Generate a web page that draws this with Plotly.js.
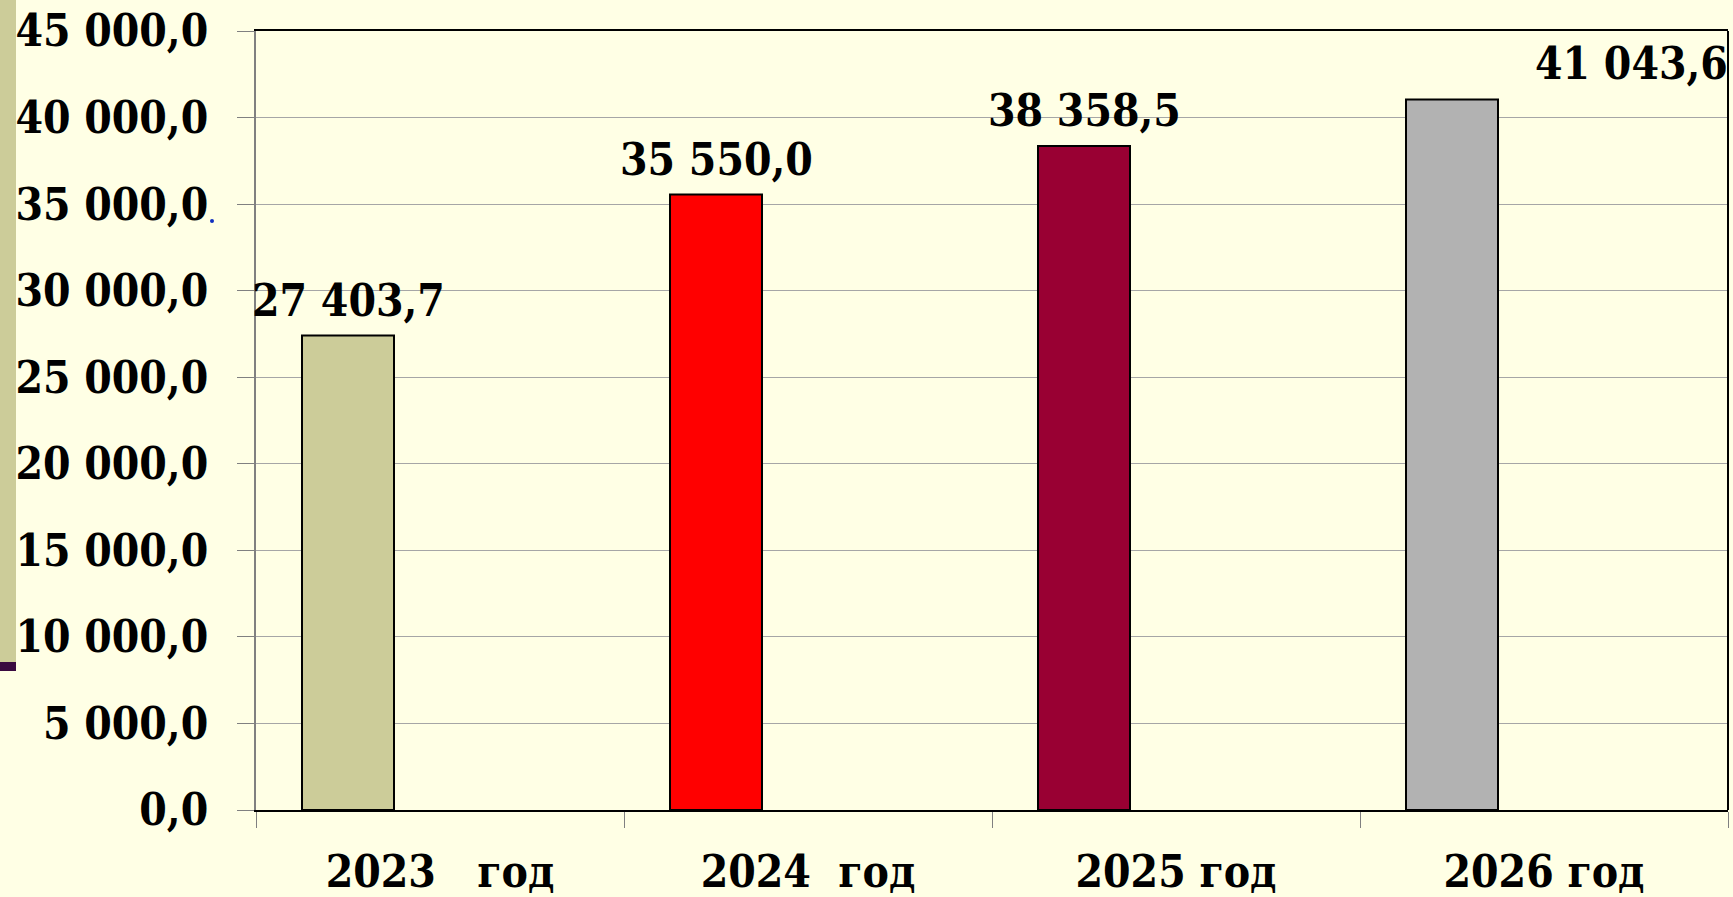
<!DOCTYPE html>
<html>
<head>
<meta charset="utf-8">
<script src="https://cdn.plot.ly/plotly-3.0.1.min.js"></script>
<style>
html,body{margin:0;padding:0;background:#FFFFE5;}
#chart{width:1733px;height:897px;}
</style>
</head>
<body>
<div id="chart"></div>
<script>
const categories = ["2023\u00a0\u00a0\u00a0год", "2024\u00a0\u00a0год", "2025 год", "2026 год"];
const values = [27403.7, 35550.0, 38358.5, 41043.6];
const valueLabels = ["27 403,7", "35 550,0", "38 358,5", "41 043,6"];
const barColors = ["#CCCC99", "#FF0000", "#990033", "#B2B2B2"];
const tickVals = [0, 5000, 10000, 15000, 20000, 25000, 30000, 35000, 40000, 45000];
const tickText = ["0,0", "5 000,0", "10 000,0", "15 000,0", "20 000,0", "25 000,0", "30 000,0", "35 000,0", "40 000,0", "45 000,0"];

const W = 1733, H = 897;
const M = {l: 256, r: 5, t: 31, b: 87};
const pw = W - M.l - M.r, ph = H - M.t - M.b;
const px = p => (p - M.l) / pw;           // pixel x -> paper
const py = p => (H - M.b - p) / ph;       // pixel y -> paper

const FONT = "'DejaVu Serif Condensed', 'DejaVu Serif', serif";
const FS = 44;

const trace = {
  type: "bar",
  x: categories,
  y: values,
  width: 0.25,
  offset: -0.375,
  marker: {color: barColors, line: {color: "#000000", width: 2}},
  hoverinfo: "none",
  showlegend: false
};

const annotations = values.map((v, i) => ({
  x: i - 0.25,
  y: v,
  xref: "x",
  yref: "y",
  text: valueLabels[i],
  showarrow: false,
  yanchor: "bottom",
  xanchor: "center",
  xshift: i === values.length - 1 ? 179 : 0,
  yshift: 8,
  font: {family: FONT, size: FS, color: "#000000", weight: "bold"}
}));

const shapes = [
  // decorative left strip (slide template)
  {type: "rect", xref: "paper", yref: "paper", x0: px(0), x1: px(16), y0: py(662), y1: py(-5),
   fillcolor: "#CCCC99", line: {width: 0}, layer: "below"},
  {type: "rect", xref: "paper", yref: "paper", x0: px(0), x1: px(16), y0: py(671), y1: py(662),
   fillcolor: "#3A0A40", line: {width: 0}, layer: "below"},
  // right border of plot area
  {type: "line", xref: "paper", yref: "paper", x0: 1, x1: 1, y0: 0, y1: 1,
   line: {color: "#000000", width: 2}},
  // tiny blue dot artifact
  {type: "circle", xref: "paper", yref: "paper", x0: px(210), x1: px(214), y0: py(223), y1: py(219),
   fillcolor: "#1030C0", line: {width: 0}}
];

const layout = {
  width: W, height: H,
  margin: M,
  paper_bgcolor: "#FFFFE5",
  plot_bgcolor: "#FFFFE5",
  bargap: 0,
  font: {family: FONT, size: FS, color: "#000000", weight: "bold"},
  xaxis: {
    type: "category",
    range: [-0.5, 3.5],
    tickson: "boundaries",
    ticks: "outside",
    ticklen: 16,
    tickcolor: "#808080",
    tickwidth: 1,
    showgrid: false,
    showline: true,
    linecolor: "#000000",
    linewidth: 2,
    mirror: true,
    ticklabelstandoff: 22,
    tickfont: {family: FONT, size: FS, color: "#000000", weight: "bold"},
    fixedrange: true
  },
  yaxis: {
    range: [0, 45000],
    tickvals: tickVals,
    ticktext: tickText,
    ticks: "outside",
    ticklen: 17,
    tickcolor: "#808080",
    tickwidth: 1,
    showgrid: true,
    gridcolor: "#A6A6A6",
    gridwidth: 1,
    showline: true,
    linecolor: "#808080",
    linewidth: 2,
    zeroline: false,
    ticklabelstandoff: 20,
    tickfont: {family: FONT, size: FS, color: "#000000", weight: "bold"},
    fixedrange: true
  },
  annotations: annotations,
  shapes: shapes
};

Plotly.newPlot("chart", [trace], layout, {displayModeBar: false, staticPlot: true});
</script>
</body>
</html>
